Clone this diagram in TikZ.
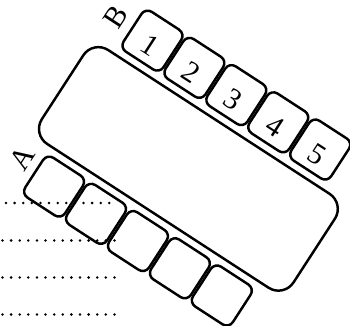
\documentclass[tikz,border=0pt]{standalone}
\usepackage{fontspec}
\setmainfont{Liberation Serif}
\usetikzlibrary{positioning}

\begin{document}
\begin{tikzpicture}[
    line width=1.4pt,
    board/.style={rectangle, draw, rounded corners=0.36cm, minimum width=6cm,
                  minimum height=2.24cm},
    cell/.style={rectangle, draw, rounded corners=0.15cm, minimum size=0.95cm,
                 inner sep=0pt, font=\fontsize{17}{20}\selectfont,
                 text height=0.6cm, text depth=0pt},
    rowlabel/.style={rotate=90, inner sep=0pt, font=\fontsize{17}{20}\selectfont},
    guide/.style={line width=1.6pt, line cap=round, dash pattern=on 0pt off 4.9pt}
  ]
    \useasboundingbox (0,0) rectangle (7,6.52);
    % dotted guide lines
    \foreach \y/\xa/\xb in {2.46/0.12/2.26, 1.71/0.05/2.38, 0.97/0.05/2.38, 0.23/0.05/2.38}
      \draw[guide] (\xa,\y) -- (\xb,\y);
    \begin{scope}[shift={(3.768,3.142)}, rotate=-33, transform shape]
      \node[board] (board) at (0,0) {};
      \foreach \i in {1,...,5} {
        \node[cell] (b\i) at ({\i-3},1.76) {\i};
        \node[cell] (a\i) at ({\i-3.06},-1.76) {};
      }
      \node[rowlabel] (lblB) at (-2.88,1.75) {B};
      \node[rowlabel] (lblA) at (-2.91,-1.64) {A};
    \end{scope}
  \end{tikzpicture}
\end{document}
